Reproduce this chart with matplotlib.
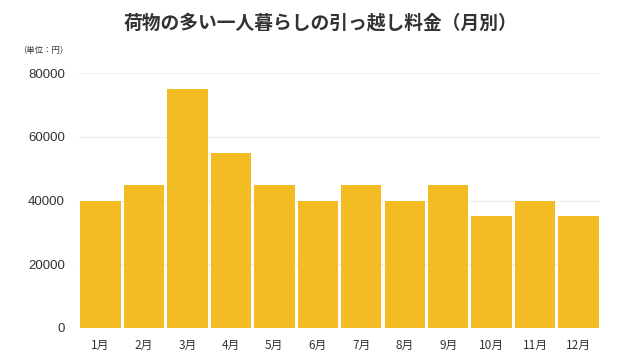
import matplotlib
matplotlib.use("Agg")
import matplotlib.pyplot as plt

plt.rcParams["font.family"] = ["Noto Sans CJK JP", "DejaVu Sans"]

months = ["1月", "2月", "3月", "4月", "5月", "6月", "7月", "8月", "9月", "10月", "11月", "12月"]
fees = [40000, 45000, 75000, 55000, 45000, 40000, 45000, 40000, 45000, 35000, 40000, 35000]
yticks = [0, 20000, 40000, 60000, 80000]

fig = plt.figure(figsize=(6.4, 3.6), dpi=100)
ax = fig.add_axes([0.123, 0.089, 0.815, 0.708])
x = range(len(months))
ax.bar(x, fees, width=0.93, color="#F3BC22", zorder=2)
ax.set_xlim(-0.5, len(months) - 0.5)
ax.set_ylim(0, 80000)
ax.set_yticks(yticks)
ax.set_yticklabels([str(v) for v in yticks], fontsize=9.5, color="#333333", family=["Liberation Sans", "DejaVu Sans"])
ax.set_xticks(list(x))
ax.set_xticklabels(months, fontsize=8.5, color="#333333")
ax.tick_params(length=0, pad=8)
ax.tick_params(axis="y", pad=10)
ax.grid(axis="y", color="#eeeeee", linewidth=0.8, zorder=0)
for s in ax.spines.values():
    s.set_visible(False)

fig.text(0.5, 0.935, "荷物の多い一人暮らしの引っ越し料金（月別）", ha="center", va="center",
         fontsize=13.5, fontweight="bold", color="#333333")
fig.text(0.028, 0.86, "（単位：円）", ha="left", va="center", fontsize=6, color="#333333")

fig.savefig("out.png", dpi=100, facecolor="white")
